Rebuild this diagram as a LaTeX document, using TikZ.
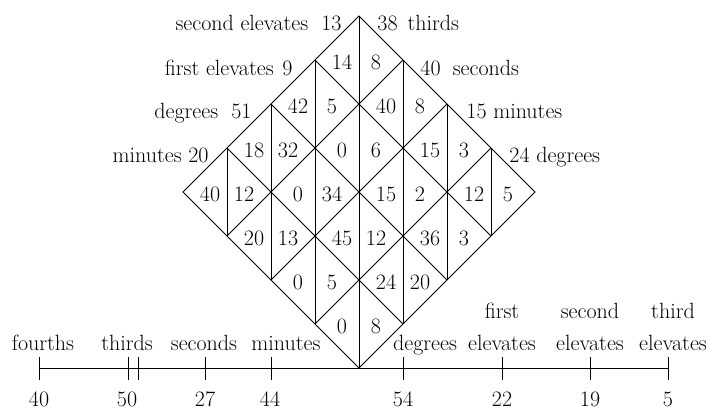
\documentclass[tikz,border=0pt]{standalone}
\usetikzlibrary{calc}

\begin{document}
\begin{tikzpicture}[x=1pt,y=-1pt,line width=0.9pt,
    every node/.style={font=\fontsize{22}{32}\selectfont,inner sep=0pt},
    digit/.style={anchor=center},
    side/.style={anchor=base east},
    sideR/.style={anchor=base west},
    place/.style={anchor=base,align=center}]
    \useasboundingbox (0,0) rectangle (711,410);

    %mark points of the lattice
        \foreach \i in {0,...,4}
            \foreach \j in {0,...,4}
                \coordinate (g\i\j) at ({359+44*(\i-\j)},{16+44*(\i+\j)});

    %draw diamond and grid lines
        \draw (g00) -- (g40) -- (g44) -- (g04) -- cycle;
        \foreach \k in {1,2,3} {
            \draw (g\k0) -- (g\k4);
            \draw (g0\k) -- (g4\k);
        }
    %split each cell by its vertical diagonal
        \foreach \i in {0,...,3}
            \foreach \j in {0,...,3} {
                \pgfmathtruncatemacro\ii{\i+1}
                \pgfmathtruncatemacro\jj{\j+1}
                \draw (g\i\j) -- (g\ii\jj);
            }

    %partial products in the cells
        \foreach \i/\j/\l/\r in {0/0/14/8, 0/1/42/5, 1/0/40/8, 0/2/18/32,
                1/1/0/6, 2/0/15/3, 0/3/40/12, 1/2/0/34, 2/1/15/2, 3/0/12/5,
                1/3/20/13, 2/2/45/12, 3/1/36/3, 2/3/0/5, 3/2/24/20, 3/3/0/8} {
            \pgfmathtruncatemacro\ii{\i+1}
            \pgfmathtruncatemacro\jj{\j+1}
            \node[digit] (l\i\j) at ($(g\i\j)!0.5!(g\ii\jj)+(-17,2)$) {\l};
            \node[digit] (r\i\j) at ($(g\i\j)!0.5!(g\ii\jj)+(17,2)$) {\r};
        }

    %factors along the two upper sides
        \node[side] (f0) at ($(g00)+(-17,14)$) {second elevates\hspace{.6em}13};
        \node[side] (f1) at ($(g01)+(-22,15)$) {first elevates\hspace{.4em}9};
        \node[side] (f2) at ($(g02)+(-19,14)$) {degrees\hspace{.6em}51};
        \node[side] (f3) at ($(g03)+(-18,14)$) {minutes 20};
        \node[sideR] (h0) at ($(g00)+(18,14)$) {38\hspace{.45em}thirds};
        \node[sideR] (h1) at ($(g10)+(17,15)$) {40\hspace{.55em}seconds};
        \node[sideR] (h2) at ($(g20)+(19,14)$) {15 minutes};
        \node[sideR] (h3) at ($(g30)+(18,14)$) {24 degrees};

    %axis of places with the result
        \coordinate (a0) at (39,368);
        \coordinate (a7) at (668,368);
        \draw (a0) -- (a7);
        \foreach \x in {39,128,138,205,271,403,502,590,668}
            \draw (\x,357) -- (\x,380);

        \node[place] (p0) at (43,350) {fourths};
        \node[place] (p1) at (127,350) {thirds};
        \node[place] (p2) at (204,350) {seconds};
        \node[place] (p3) at (286,350) {minutes};
        \node[place] (p4) at (425,350) {degrees};
        \node[place] (p5) at (502,350) {first\\elevates};
        \node[place] (p6) at (590,350) {second\\elevates};
        \node[place] (p7) at (673,350) {third\\elevates};

        \foreach \x/\v in {39/40,127/50,205/27,270/44,403/54,502/22,590/19,668/5}
            \node[place] (v\v) at (\x,406) {\v};
\end{tikzpicture}
\end{document}
